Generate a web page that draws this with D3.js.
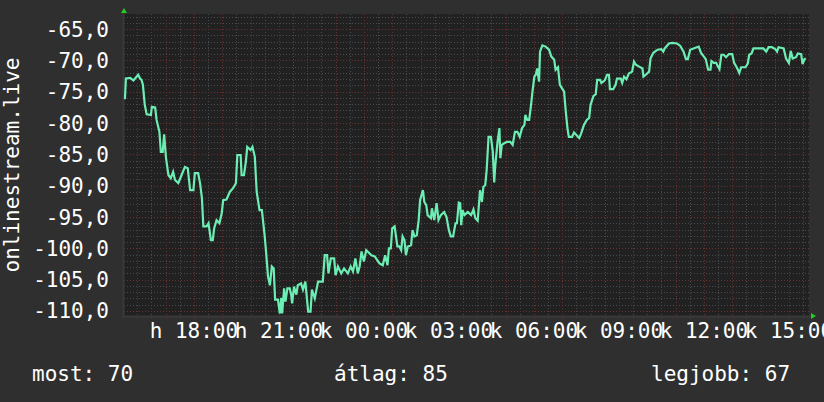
<!DOCTYPE html>
<html>
<head>
<meta charset="utf-8">
<script src="https://cdn.jsdelivr.net/npm/d3@7"></script>
<style>
  html, body { margin: 0; padding: 0; background: #2f2f2f; }
  svg { display: block; }
  text { font-family: "DejaVu Sans Mono", monospace; fill: #ffffff; }
</style>
</head>
<body>
<svg id="js-svg" width="824" height="402"></svg>
<script>
// minutes since start (Monday 15:32) and measured values
const minutes = [2,4,13,20,30,34,37,40,44,48,57,59,66,69,75,78,82,85,89,94,99,104,108,115,122,129,135,140,147,150,157,161,165,168,175,179,184,188,191,196,202,207,210,217,224,231,237,240,247,249,254,258,261,268,272,277,281,287,292,298,301,305,309,313,317,320,326,330,333,335,339,342,346,351,354,356,360,365,368,375,379,384,390,395,398,404,411,421,425,430,433,438,445,448,453,460,466,474,480,485,490,495,499,503,508,513,524,531,541,548,553,558,561,565,568,573,579,583,587,590,594,597,601,608,611,615,620,624,627,633,636,640,643,650,652,657,662,666,671,678,683,688,692,697,702,705,709,712,714,717,721,728,735,740,744,749,754,758,761,765,768,772,777,781,784,786,791,795,797,800,806,811,818,823,828,833,838,843,848,850,854,858,862,865,869,872,875,879,881,886,893,900,905,911,914,919,923,928,932,935,939,942,949,953,958,964,968,974,980,985,988,994,999,1002,1008,1011,1018,1023,1027,1029,1036,1041,1044,1052,1055,1059,1064,1069,1076,1080,1084,1091,1098,1100,1105,1112,1115,1121,1130,1138,1142,1145,1154,1161,1171,1178,1185,1190,1194,1199,1206,1217,1222,1228,1232,1237,1242,1244,1249,1254,1258,1261,1265,1270,1275,1281,1288,1292,1296,1300,1303,1307,1316,1321,1324,1329,1333,1354,1360,1365,1372,1379,1383,1386,1397,1402,1408,1412,1416,1423,1427,1434,1437,1441,1444];
const values = [-76.2,-72.9,-72.8,-73.2,-72.3,-72.9,-73.1,-73.9,-77.1,-78.6,-78.7,-77.4,-77.5,-79.5,-81.4,-84.6,-84.6,-81.8,-85.6,-88.3,-88.8,-87.8,-89.1,-89.6,-88.3,-87.0,-87.2,-90.7,-90.7,-88.0,-88.0,-89.6,-92.0,-96.5,-96.5,-96.0,-98.7,-98.7,-96.8,-95.5,-96.0,-94.4,-92.3,-92.2,-91.0,-90.4,-89.6,-85.1,-85.1,-88.3,-88.3,-86.2,-83.8,-84.3,-83.8,-85.4,-91.0,-93.9,-93.9,-98.1,-100.7,-104.5,-105.9,-102.9,-103.2,-108.2,-108.2,-110.4,-107.9,-110.4,-106.4,-108.5,-106.4,-106.4,-107.4,-108.8,-106.1,-107.4,-105.9,-105.6,-106.6,-105.3,-110.1,-110.1,-106.6,-108.0,-105.3,-105.3,-101.1,-101.1,-104.0,-101.6,-101.6,-104.3,-102.9,-104.0,-103.2,-104.0,-102.9,-103.7,-101.6,-104.0,-102.9,-100.5,-102.1,-100.3,-101.1,-101.3,-102.4,-102.7,-101.1,-102.7,-100.0,-100.0,-96.8,-96.5,-99.7,-99.7,-100.3,-98.1,-98.7,-101.1,-99.7,-99.5,-97.1,-98.1,-97.9,-95.5,-92.3,-90.7,-92.6,-93.1,-94.7,-95.2,-93.6,-95.5,-92.8,-95.5,-94.7,-94.2,-95.0,-97.1,-98.1,-98.1,-96.0,-96.0,-92.7,-92.8,-96.3,-93.9,-94.7,-94.2,-94.7,-93.8,-95.2,-95.6,-90.7,-92.6,-90.2,-89.9,-87.5,-82.2,-82.2,-84.6,-89.5,-87.0,-83.0,-80.8,-85.6,-83.5,-83.2,-83.0,-83.0,-83.5,-81.4,-81.4,-82.2,-80.8,-80.3,-78.7,-79.5,-79.5,-77.1,-75.0,-72.6,-72.3,-71.3,-73.4,-68.6,-67.6,-67.8,-68.3,-69.4,-69.9,-71.5,-71.1,-73.9,-74.5,-75.0,-77.7,-80.8,-82.2,-82.2,-81.5,-81.9,-82.4,-81.7,-80.3,-79.5,-79.2,-77.1,-75.7,-75.4,-73.1,-73.1,-73.6,-73.2,-72.3,-72.3,-74.6,-74.6,-73.9,-72.9,-72.9,-73.6,-72.6,-73.0,-72.1,-71.8,-70.2,-70.7,-71.0,-71.3,-72.6,-72.3,-71.8,-69.7,-68.8,-68.3,-68.2,-68.6,-68.1,-67.3,-67.2,-67.3,-67.7,-68.6,-69.8,-69.8,-68.3,-68.1,-67.8,-68.8,-69.4,-69.8,-71.5,-71.5,-70.1,-70.4,-70.4,-71.0,-71.4,-69.1,-69.1,-69.5,-69.0,-69.0,-70.4,-70.9,-71.5,-72.0,-71.1,-71.1,-70.5,-69.1,-68.9,-68.1,-68.1,-68.6,-67.9,-67.9,-68.2,-68.6,-67.9,-68.1,-69.7,-70.4,-68.5,-69.7,-69.5,-68.9,-69.0,-70.6,-69.8,-69.7];

const startTime = new Date(Date.UTC(2024, 0, 15, 15, 32));
const endTime = new Date(startTime.getTime() + 1450.6 * 60000);
const dayNames = ["v", "h", "k", "sze", "cs", "p", "szo"];
const yMajorTicks = [-110, -105, -100, -95, -90, -85, -80, -75, -70, -65];
const yTitle = "onlinestream.live";
const legendLabels = ["most", "átlag", "legjobb"];
const legendValues = [70, 85, 67];

const pLeft = 124, pRight = 809, pTop = 14, pBottom = 316;
const svg = d3.select("#js-svg");

const xscale = d3.scaleUtc().domain([startTime, endTime]).range([pLeft, pRight]);
const yscale = d3.scaleLinear().domain([-110.8, -62.6]).range([pBottom, pTop]);

const huLocale = d3.formatLocale({ decimal: ",", thousands: " ", grouping: [3], currency: ["", ""], minus: "-" });
const yfmt = huLocale.format(".1f");
const hm = d3.utcFormat("%H:%M");

const minorColor = "#4a4a4a";
const majorColor = "#6a2f2f";

// background + canvas
svg.append("rect").attr("width", 824).attr("height", 402).attr("fill", "#2f2f2f");
svg.append("rect").attr("x", pLeft).attr("y", pTop)
  .attr("width", pRight - pLeft).attr("height", pBottom - pTop).attr("fill", "#212121");

// grid
const grid = svg.append("g");
const minorY = d3.range(-110, -62, 1).filter((v) => v % 5 !== 0);
grid.selectAll(".ymin").data(minorY).join("line")
  .attr("x1", pLeft).attr("x2", pRight)
  .attr("y1", (d) => Math.round(yscale(d)) + 0.5).attr("y2", (d) => Math.round(yscale(d)) + 0.5)
  .attr("stroke", minorColor).attr("stroke-dasharray", "1,2");

const halfHours = d3.utcMinute.every(30).range(startTime, endTime);
const minorX = halfHours.filter((d) => d.getUTCMinutes() === 30);
const majorX = halfHours.filter((d) => d.getUTCMinutes() === 0);

grid.selectAll(".xmin").data(minorX).join("line")
  .attr("x1", (d) => Math.round(xscale(d)) + 0.5).attr("x2", (d) => Math.round(xscale(d)) + 0.5)
  .attr("y1", pTop).attr("y2", pBottom + 2)
  .attr("stroke", minorColor).attr("stroke-dasharray", "1,2");

grid.selectAll(".ymaj").data(yMajorTicks).join("line")
  .attr("x1", pLeft).attr("x2", pRight)
  .attr("y1", (d) => Math.round(yscale(d)) + 0.5).attr("y2", (d) => Math.round(yscale(d)) + 0.5)
  .attr("stroke", majorColor).attr("stroke-dasharray", "1,2");

grid.selectAll(".xmaj").data(majorX).join("line")
  .attr("x1", (d) => Math.round(xscale(d)) + 0.5).attr("x2", (d) => Math.round(xscale(d)) + 0.5)
  .attr("y1", pTop).attr("y2", pBottom + 3)
  .attr("stroke", majorColor).attr("stroke-dasharray", "1,2");

// axes frame
svg.append("line").attr("x1", pLeft - 0.5).attr("x2", pLeft - 0.5).attr("y1", pTop - 1).attr("y2", pBottom + 2)
  .attr("stroke", "#393939").attr("stroke-width", 2);
svg.append("line").attr("x1", pLeft - 2).attr("x2", pRight + 2).attr("y1", pBottom + 0.5).attr("y2", pBottom + 0.5)
  .attr("stroke", "#393939").attr("stroke-width", 2);

// arrows
svg.append("path").attr("d", `M${pLeft - 3},${pTop - 1} L${pLeft + 3},${pTop - 1} L${pLeft},${pTop - 6} Z`).attr("fill", "#22cc22");
svg.append("path").attr("d", `M${pRight + 2},${pBottom - 3} L${pRight + 2},${pBottom + 3} L${pRight + 7},${pBottom} Z`).attr("fill", "#22cc22");

// y labels
svg.append("g").selectAll("text").data(yMajorTicks).join("text")
  .attr("x", 109).attr("y", (d) => yscale(d) + 7.5)
  .attr("text-anchor", "end").attr("font-size", 21)
  .text((d) => yfmt(d));

// x labels every 3h
const labelTicks = d3.utcHour.every(3).range(startTime, endTime);
svg.append("g").selectAll("text").data(labelTicks).join("text")
  .attr("x", (d) => xscale(d)).attr("y", 338)
  .attr("text-anchor", "middle").attr("font-size", 21)
  .text((d) => dayNames[d.getUTCDay()] + " " + hm(d));

// y title
svg.append("text")
  .attr("transform", `translate(19,${(pTop + pBottom) / 2}) rotate(-90)`)
  .attr("text-anchor", "middle").attr("font-size", 21)
  .text(yTitle);

// data line
const series = minutes.map((m, i) => ({ date: new Date(startTime.getTime() + m * 60000), value: values[i] }));
const line = d3.line().x((d) => xscale(d.date)).y((d) => yscale(d.value));
svg.append("path").datum(series)
  .attr("d", line).attr("fill", "none")
  .attr("stroke", "#6cedb3").attr("stroke-width", 2.2).attr("stroke-linejoin", "miter");

// legend
const legendX = [32, 334, 651];
svg.append("g").selectAll("text").data(legendLabels).join("text")
  .attr("x", (d, i) => legendX[i]).attr("y", 381)
  .attr("font-size", 21)
  .text((d, i) => d + ": " + legendValues[i]);
</script>
</body>
</html>
